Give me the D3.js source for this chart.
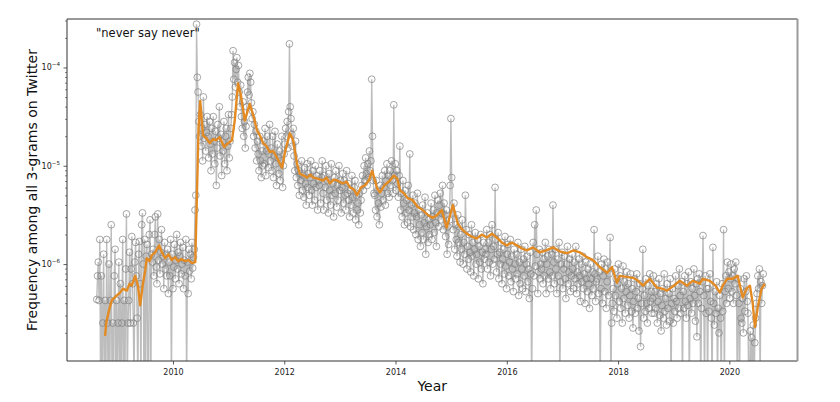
<!DOCTYPE html>
<html>
<head>
<meta charset="utf-8">
<script src="https://cdn.jsdelivr.net/npm/d3@7"></script>
<style>
  html, body { margin: 0; padding: 0; background: #ffffff; }
  svg { display: block; font-family: "DejaVu Sans", sans-serif; }
</style>
</head>
<body>
<svg id="chart" width="840" height="402"></svg>
<script>
// ---------------- DATA ----------------
const title = '"never say never"';
const xLabel = "Year";
const yLabel = "Frequency among all 3-grams on Twitter";
const xTickYears = [2010, 2012, 2014, 2016, 2018, 2020];
const yMajorTicks = [1e-6, 1e-5, 1e-4];
const yTickExponents = ["\u22126", "\u22125", "\u22124"];

// Raw series: one value every 5 days starting at rawStart (decimal year).
// Each entry n means frequency 10^(-n/100); 0 means a day with zero count.
const rawStart = 2008.63;
const rawStepDays = 5;
const raw_2008_09 = [636,612,598,637,575,
  0,612,0,660,590,0,637,0,575,660,
  0,600,0,637,560,0,660,0,612,585,
  0,637,0,660,598,0,620,0,660,575,
  0,637,0,605,549,0,660,
  637,588,660,605,572,620,660,0,598,578,
  612,655,0,590,577,620,0,560,548,600,
  0,575,0,592,580,0,0,570,555,0,590];
const raw_2009_10 = [598,585,612,570,552,603,620,549,596,575,
  610,588,565,600,592,625,578,605,590,612,
  585,630,598,612,575,0,590,625,603,580,
  615,596,570,605,588,620,592,578,610,600,
  583,625,596,612,575,0,598,630,585,607,
  590,615,578,604,593,585,545,530,356,410,
  425,455,470,448,480,462,495,430,472,458,485,466,450];
const raw_2010_11 = [470,492,455,478,505,462,488,450,475,498,
  465,520,482,458,472,440,490,468,510,476,
  485,455,498,470,462,505,480,448,492,475,
  462,448,430,383,412,395,420,402,390,415,
  398,425,440,418,450,462,435,470,455,482,
  460,440,425,410,428,406,415,436,452,445,
  470,458,482,465,495,475,488,505,470,495,512,485,500];
const raw_2011_12 = [475,498,462,510,485,470,502,488,458,495,
  482,505,470,512,490,465,498,520,478,492,
  508,485,515,495,470,522,500,488,478,462,
  470,455,482,445,376,440,452,468,480,462,
  490,505,475,512,498,520,505,530,508,515,
  495,525,510,532,502,518,540,498,522,508,
  530,512,495,525,540,505,518,535,500,522,510,545,515];
const raw_2012_13 = [520,505,538,512,495,528,545,510,522,500,
  535,515,548,508,525,540,498,530,518,552,
  512,528,505,542,520,535,500,525,515,548,
  522,508,538,515,530,545,505,528,518,535,
  552,525,540,510,532,548,522,515,555,530,
  545,538,560,528,548,535,520,510,525,500,
  515,492,508,520,498,512,485,505,495,412,470,515,528];
const raw_2013_14 = [530,545,515,552,525,538,560,520,542,528,
  510,535,522,505,540,515,498,528,510,532,
  505,520,495,515,528,438,510,498,525,505,
  518,532,510,480,545,528,552,515,538,560,
  525,548,535,558,520,545,488,562,540,552,
  530,565,548,538,570,552,528,575,545,560,
  582,550,568,540,575,558,532,590,562,548,578,555,570];
const raw_2014_15 = [560,538,575,552,545,568,530,558,582,548,
  535,562,540,528,555,548,520,565,538,550,
  572,545,590,562,580,555,520,452,512,548,
  565,538,585,560,575,592,550,578,562,598,
  570,585,555,600,578,590,530,565,605,582,
  595,570,588,608,560,592,578,612,585,568,
  600,590,575,615,582,598,570,605,588,620,578,595,585];
const raw_2015_16 = [590,565,605,578,598,570,612,585,560,600,
  582,595,522,575,608,590,568,615,588,600,
  578,620,595,585,610,572,602,625,590,580,
  612,598,575,618,592,605,628,585,600,615,
  590,610,578,632,598,620,585,605,625,595,
  612,582,628,600,592,618,605,635,588,610,
  0,625,578,612,560,602,545,590,630,608,585,615,600];
const raw_2016_17 = [605,588,620,595,612,578,630,600,592,615,
  585,608,625,590,612,540,598,620,585,605,
  630,595,612,578,0,618,600,588,625,605,
  592,615,635,600,582,620,608,595,628,612,
  590,605,625,598,615,582,630,608,620,595,
  612,638,600,618,592,625,610,640,598,615,
  628,605,620,645,600,615,632,608,625,565,610,638,618];
const raw_2017_18 = [615,592,630,608,0,625,600,640,612,595,
  628,605,645,618,598,632,610,573,0,660,
  640,625,648,605,632,615,655,620,600,638,
  612,645,625,660,602,635,618,650,628,608,
  642,620,655,632,610,648,625,665,638,615,
  650,628,610,645,635,668,620,684,640,625,
  585,655,632,648,615,640,660,622,645,610,638,628,650];
const raw_2018_19 = [635,612,650,628,645,620,660,638,615,652,
  630,668,642,625,655,610,648,635,662,620,
  645,630,658,615,0,640,625,660,635,648,
  612,638,655,622,645,605,632,650,618,0,
  628,645,612,638,655,620,642,608,0,635,
  618,650,625,640,605,632,658,620,674,615,
  640,610,628,0,645,618,571,632,0,612,650,625,0];
const raw_2019_20 = [625,648,610,638,655,0,583,640,662,628,
  650,618,0,645,670,632,655,0,620,648,
  565,0,628,612,640,598,625,608,635,615,
  600,628,612,640,605,620,598,632,0,615,
  640,0,625,655,660,635,670,615,648,628,
  612,638,650,0,0,668,0,675,0,662,
  0,680,655,640,630,612,625,605,0,618,640,622,610];

// Smoothed series (orange): decimal year and log10(frequency)
const smoothYear = [2008.78,2008.80,2008.83,2008.86,2008.90,2008.97,2009.05,2009.10,2009.17,2009.22,
  2009.26,2009.32,2009.37,2009.41,2009.46,2009.50,2009.53,2009.58,2009.62,2009.68,
  2009.75,2009.80,2009.86,2009.92,2009.98,2010.04,2010.09,2010.15,2010.22,2010.28,
  2010.34,2010.40,2010.43,2010.46,2010.49,2010.54,2010.60,2010.66,2010.72,2010.77,
  2010.84,2010.92,2010.99,2011.06,2011.11,2011.17,2011.22,2011.29,2011.38,2011.45,
  2011.51,2011.57,2011.62,2011.68,2011.74,2011.80,2011.87,2011.96,2012.01,2012.10,
  2012.16,2012.23,2012.28,2012.35,2012.41,2012.47,2012.52,2012.60,2012.70,2012.76,
  2012.82,2012.89,2012.95,2013.05,2013.12,2013.18,2013.25,2013.31,2013.38,2013.45,
  2013.52,2013.58,2013.63,2013.67,2013.72,2013.80,2013.90,2013.97,2014.03,2014.08,
  2014.15,2014.22,2014.31,2014.40,2014.49,2014.58,2014.67,2014.75,2014.83,2014.92,
  2015.03,2015.12,2015.20,2015.28,2015.37,2015.46,2015.55,2015.64,2015.73,2015.82,
  2015.91,2016.00,2016.09,2016.18,2016.27,2016.36,2016.47,2016.59,2016.71,2016.83,
  2016.95,2017.08,2017.20,2017.31,2017.44,2017.55,2017.67,2017.74,2017.80,2017.89,
  2017.98,2018.03,2018.15,2018.27,2018.36,2018.45,2018.57,2018.70,2018.79,2018.88,
  2019.00,2019.11,2019.24,2019.34,2019.47,2019.52,2019.65,2019.75,2019.83,2019.88,
  2019.96,2020.06,2020.15,2020.24,2020.31,2020.37,2020.42,2020.46,2020.51,2020.58,2020.64];
const smoothLog = [-6.73,-6.60,-6.52,-6.45,-6.37,-6.33,-6.29,-6.25,-6.27,-6.20,
  -6.22,-6.12,-6.22,-6.42,-6.20,-6.07,-5.94,-5.97,-5.91,-5.88,
  -5.81,-5.88,-5.94,-5.90,-5.96,-5.93,-5.97,-5.95,-5.97,-5.96,
  -5.99,-5.98,-5.30,-4.60,-4.34,-4.69,-4.72,-4.77,-4.73,-4.74,
  -4.71,-4.81,-4.77,-4.74,-4.54,-4.16,-4.28,-4.54,-4.37,-4.50,
  -4.64,-4.70,-4.77,-4.80,-4.86,-4.85,-4.92,-5.02,-4.87,-4.67,
  -4.74,-4.98,-5.08,-5.10,-5.12,-5.09,-5.12,-5.13,-5.15,-5.12,
  -5.18,-5.14,-5.15,-5.18,-5.16,-5.22,-5.24,-5.30,-5.22,-5.20,
  -5.15,-5.05,-5.15,-5.23,-5.27,-5.20,-5.15,-5.10,-5.13,-5.25,
  -5.28,-5.33,-5.35,-5.42,-5.45,-5.50,-5.53,-5.50,-5.45,-5.63,
  -5.40,-5.59,-5.65,-5.69,-5.72,-5.74,-5.70,-5.73,-5.69,-5.73,
  -5.78,-5.81,-5.78,-5.81,-5.84,-5.86,-5.83,-5.88,-5.86,-5.83,
  -5.87,-5.89,-5.86,-5.88,-5.93,-5.96,-6.03,-6.06,-6.09,-6.03,
  -6.19,-6.12,-6.13,-6.14,-6.17,-6.22,-6.15,-6.24,-6.25,-6.27,
  -6.22,-6.17,-6.22,-6.17,-6.20,-6.15,-6.17,-6.22,-6.29,-6.22,
  -6.15,-6.15,-6.12,-6.34,-6.25,-6.22,-6.40,-6.64,-6.44,-6.25,-6.20];

// ---------------- CHART ----------------
const svg = d3.select("#chart");
const L = 67, R = 797.5, T = 19, B = 361;

const x = d3.scaleLinear().domain([2008.095, 2021.225]).range([L, R]);
const y = d3.scaleLog().domain([Math.pow(10, -6.986), Math.pow(10, -3.507)]).range([B, T]);

svg.append("defs").append("clipPath").attr("id", "plotclip")
  .append("rect").attr("x", L).attr("y", T).attr("width", R - L).attr("height", B - T);

const rawAll = [].concat(raw_2008_09, raw_2009_10, raw_2010_11, raw_2011_12, raw_2012_13,
  raw_2013_14, raw_2014_15, raw_2015_16, raw_2016_17, raw_2017_18, raw_2018_19, raw_2019_20);
const raw = rawAll.map((n, i) => ({
  t: rawStart + i * rawStepDays / 365.25,
  v: n === 0 ? 0 : Math.pow(10, -n / 100)
}));

const plot = svg.append("g").attr("clip-path", "url(#plotclip)");

const rawLine = d3.line()
  .x(d => x(d.t))
  .y(d => d.v > 0 ? y(d.v) : B + 30);

plot.append("path").datum(raw)
  .attr("d", rawLine)
  .attr("fill", "none")
  .attr("stroke", "#bdbdbd")
  .attr("stroke-width", 1.4);

plot.append("g").selectAll("circle")
  .data(raw.filter(d => d.v > 0))
  .join("circle")
  .attr("cx", d => x(d.t))
  .attr("cy", d => y(d.v))
  .attr("r", 3.4)
  .attr("fill", "none")
  .attr("stroke", "#7f7f7f")
  .attr("stroke-opacity", 0.78)
  .attr("stroke-width", 0.9);

const smooth = smoothYear.map((t, i) => ({ t, v: Math.pow(10, smoothLog[i]) }));
plot.append("path").datum(smooth)
  .attr("d", d3.line().x(d => x(d.t)).y(d => y(d.v)))
  .attr("fill", "none")
  .attr("stroke", "#e38b22")
  .attr("stroke-width", 2.4)
  .attr("stroke-linejoin", "round");

// Axes
const xAxis = svg.append("g").attr("transform", `translate(0,${B})`)
  .call(d3.axisBottom(x).tickValues(xTickYears).tickFormat(d3.format("d")).tickSize(3.5).tickSizeOuter(0));
xAxis.select(".domain").remove();
xAxis.selectAll("text").attr("font-size", 8).attr("fill", "#222").attr("font-family", "DejaVu Sans").attr("dy", "0.95em");
xAxis.selectAll("line").attr("stroke", "#333").attr("stroke-width", 0.8);

// minor y ticks
const minorTicks = [];
for (let e = -7; e <= -4; e++) for (let m = 2; m <= 9; m++) {
  const v = m * Math.pow(10, e);
  if (v >= y.domain()[0] && v <= y.domain()[1]) minorTicks.push(v);
}
const yMinor = svg.append("g").attr("transform", `translate(${L},0)`)
  .call(d3.axisLeft(y).tickValues(minorTicks).tickFormat("").tickSize(2).tickSizeOuter(0));
yMinor.select(".domain").remove();
yMinor.selectAll("line").attr("stroke", "#333").attr("stroke-width", 0.6);

const yMajor = svg.append("g").attr("transform", `translate(${L},0)`)
  .call(d3.axisLeft(y).tickValues(yMajorTicks).tickFormat("").tickSize(3.5).tickSizeOuter(0));
yMajor.select(".domain").remove();
yMajor.selectAll("line").attr("stroke", "#333").attr("stroke-width", 0.8);

const yLab = svg.append("g");
yMajorTicks.forEach((v, i) => {
  const t = yLab.append("text")
    .attr("x", L - 7).attr("y", y(v) + 3)
    .attr("text-anchor", "end")
    .attr("font-size", 8).attr("fill", "#222");
  t.append("tspan").text("10");
  t.append("tspan").attr("font-size", 5.6).attr("dy", -4).text(yTickExponents[i]);
});

// spines
svg.append("line").attr("x1", L).attr("x2", L).attr("y1", T).attr("y2", B).attr("stroke", "#333").attr("stroke-width", 1);
svg.append("line").attr("x1", L).attr("x2", R).attr("y1", B).attr("y2", B).attr("stroke", "#333").attr("stroke-width", 1);
svg.append("line").attr("x1", L).attr("x2", R).attr("y1", T).attr("y2", T).attr("stroke", "#333").attr("stroke-width", 1);
svg.append("line").attr("x1", R).attr("x2", R).attr("y1", T).attr("y2", B).attr("stroke", "#9a9a9a").attr("stroke-width", 2);

// labels
svg.append("text").attr("x", (L + R) / 2).attr("y", 391).attr("text-anchor", "middle")
  .attr("font-size", 14).attr("fill", "#111").text(xLabel);
svg.append("text").attr("transform", `translate(37,${(T + B) / 2}) rotate(-90)`)
  .attr("text-anchor", "middle").attr("font-size", 14).attr("fill", "#111").text(yLabel);
svg.append("text").attr("x", 96).attr("y", 37).attr("font-size", 11.5).attr("fill", "#111").text(title);
</script>
</body>
</html>
